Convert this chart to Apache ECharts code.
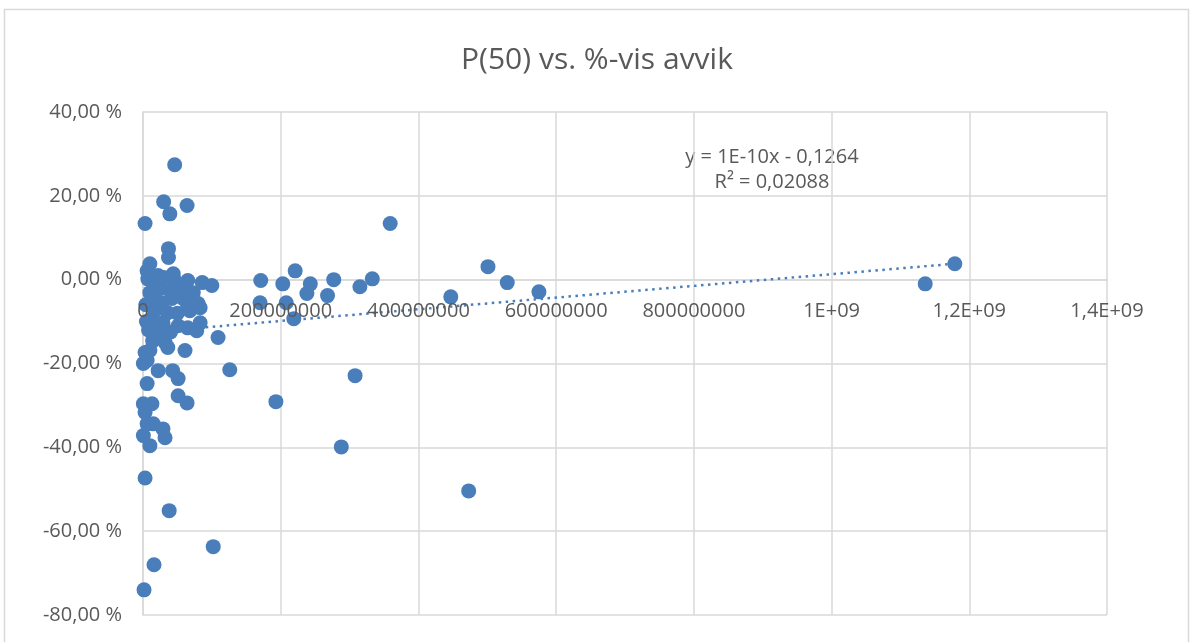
<!DOCTYPE html>
<html>
<head>
<meta charset="utf-8">
<script src="https://cdn.jsdelivr.net/npm/echarts@6/dist/echarts.min.js"></script>
<style>
    html, body { margin: 0; padding: 0; background: #fff; }
    #main { width: 1194px; height: 642px; }
</style>
</head>
<body>
<div id="main"></div>
<script>
    // P(50) (x) og %-vis avvik (y, i prosent)
    var xVals = [
        46e6, 30e6, 64e6, 39e6, 3e6, 37e6, 37e6,
        10e6, 6e6, 7e6, 22e6, 44e6, 46e6, 65e6, 86e6, 100e6,
        10e6, 25e6, 39e6, 57e6, 73e6, 17e6, 42e6, 65e6, 80e6,
        17e6, 36e6, 68e6, 83e6, 13e6, 29e6, 51e6, 65e6, 78e6, 83e6,
        29e6, 36e6, 10e6, 6e6, 0.5e6, 61e6, 109e6, 3e6, 14e6, 32e6,
        22e6, 43e6, 51e6, 6e6, 126e6, 51e6, 64e6, 0.5e6, 13e6, 3e6,
        15e6, 29e6, 32e6, 0.5e6, 10e6, 6e6,
        3e6, 38e6, 102e6, 16e6, 1.5e6,
        20e6, 30e6, 52e6, 15e6, 28e6, 50e6, 58e6, 24e6, 40e6, 8e6, 4e6, 5e6,
        171e6, 170e6, 203e6, 208e6, 221e6, 219e6, 243e6, 238e6, 268e6, 277e6,
        315e6, 333e6, 359e6, 447e6, 501e6, 529e6, 575e6,
        308e6, 288e6, 193e6, 473e6, 1136e6, 1179e6
    ];
    var yVals = [
        27.4, 18.6, 17.7, 15.7, 13.4, 7.4, 5.3,
        3.8, 2.1, 0.2, 1.0, 1.4, -0.2, -0.2, -0.7, -1.4,
        -3.1, -2.1, -2.6, -2.1, -3.1, -5.0, -4.5, -6.2, -5.7,
        -7.4, -7.9, -7.4, -6.7, -9.3, -10.3, -11.0, -11.5, -12.2, -10.3,
        -13.8, -16.2, -16.9, -19.3, -20.0, -16.9, -13.8, -17.4, -14.6, -15.0,
        -21.7, -21.7, -23.6, -24.8, -21.5, -27.7, -29.4, -29.6, -29.6, -31.7,
        -34.4, -35.6, -37.7, -37.2, -39.6, -34.4,
        -47.3, -55.1, -63.7, -68.0, -74.0,
        -1.0, 0.5, -1.5, -3.0, -5.5, -8.0, -4.5, -12.0, -12.5, -12.0, -6.0, -10.0,
        -0.2, -5.5, -1.0, -5.5, 2.1, -9.3, -1.0, -3.3, -3.8, 0.0,
        -1.7, 0.2, 13.4, -4.1, 3.1, -0.7, -2.9,
        -22.9, -39.9, -29.1, -50.4, -1.0, 3.8
    ];
    // lineær trendlinje, endepunkter
    var trendX = [0, 1179e6];
    var trendY = [-12.64, 3.8];

    var xMin = 0, xMax = 1.4e9, xStep = 2e8;
    var yMin = -80, yMax = 40, yStep = 20;

    var titleText = 'P(50) vs. %-vis avvik';
    var eqText = 'y = 1E-10x - 0,1264';
    var r2Text = 'R² = 0,02088';

    var blue = '#4A7EBB';
    var grey = '#595959';
    var gridCol = '#D9D9D9';
    var font = 'Open Sans';

    var points = xVals.map(function (x, i) { return [x, yVals[i]]; });
    var trend = trendX.map(function (x, i) { return [x, trendY[i]]; });

    function xLabel(v) {
        if (v === 0) return '0';
        if (v >= 1e9) {
            var m = v / 1e9;
            return (m === 1 ? '1' : String(m).replace('.', ',')) + 'E+09';
        }
        return String(v);
    }

    var myChart = echarts.init(document.getElementById('main'));
    var option = {
        backgroundColor: '#fff',
        animation: false,
        title: {
            text: titleText,
            left: 'center',
            top: 40,
            textStyle: { fontFamily: font, fontSize: 30, fontWeight: 'normal', color: grey }
        },
        grid: { left: 143, right: 87, top: 112, bottom: 27 },
        xAxis: [{
            type: 'value',
            min: xMin, max: xMax, interval: xStep,
            axisLine: { onZero: true, lineStyle: { color: gridCol, width: 1.5 } },
            axisTick: { show: false },
            axisLabel: { show: false },
            splitLine: { show: true, lineStyle: { color: gridCol, width: 1.5 } }
        }, {
            // kun etiketter, ved y = 0 og over punktene (som i Excel)
            type: 'value',
            position: 'bottom',
            min: xMin, max: xMax, interval: xStep,
            axisLine: { show: false },
            axisTick: { show: false },
            splitLine: { show: false },
            axisLabel: { formatter: xLabel, margin: -314, fontFamily: font, fontSize: 20, color: grey },
            z: 6
        }],
        yAxis: {
            type: 'value',
            min: yMin, max: yMax, interval: yStep,
            axisLine: { show: true, onZero: false, lineStyle: { color: gridCol, width: 1.5 } },
            axisTick: { show: false },
            axisLabel: {
                margin: 21, fontFamily: font, fontSize: 20, color: grey,
                formatter: function (v) { return v.toFixed(2).replace('.', ',') + ' %'; }
            },
            splitLine: { show: true, lineStyle: { color: gridCol, width: 1.5 } }
        },
        series: [{
            type: 'scatter',
            data: points,
            symbol: 'circle',
            symbolSize: 15,
            itemStyle: { color: blue, opacity: 1 },
            z: 3
        }, {
            type: 'line',
            data: trend,
            symbol: 'none',
            lineStyle: { color: blue, width: 2.5, type: [2.5, 4.5] },
            z: 4
        }],
        graphic: [{
            type: 'rect',
            shape: { x: 4.5, y: 9.5, width: 1184, height: 660 },
            style: { fill: null, stroke: gridCol, lineWidth: 1.5 },
            silent: true
        }, {
            type: 'text',
            x: 772, y: 157,
            style: { text: eqText, font: '20px "Open Sans"', fill: grey, align: 'center', verticalAlign: 'middle' }
        }, {
            type: 'text',
            x: 772, y: 182,
            style: { text: r2Text, font: '20px "Open Sans"', fill: grey, align: 'center', verticalAlign: 'middle' }
        }]
    };
    myChart.setOption(option);
</script>
</body>
</html>
